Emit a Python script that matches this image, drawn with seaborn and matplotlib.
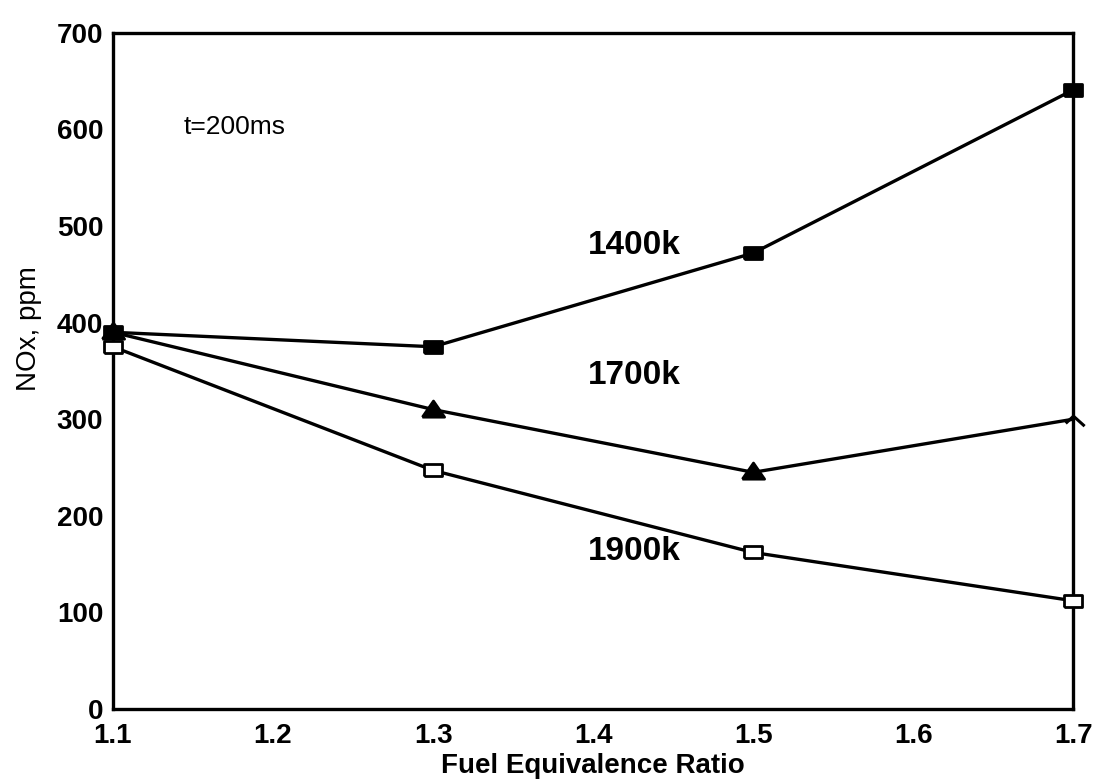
import matplotlib
matplotlib.use("Agg")
import matplotlib.pyplot as plt
import seaborn as sns
import pandas as pd

phi = [1.1, 1.3, 1.5, 1.7]
nox_1400k = [390, 375, 472, 641]
nox_1700k = [390, 310, 245, 300]
nox_1900k = [375, 247, 162, 112]
series_names = ["1400k", "1700k", "1900k"]
x_ticks = [1.1, 1.2, 1.3, 1.4, 1.5, 1.6, 1.7]
y_ticks = [0, 100, 200, 300, 400, 500, 600, 700]

sns.set_theme(style="white")
plt.rcParams["font.family"] = ["Liberation Sans", "DejaVu Sans"]
plt.rcParams["text.color"] = "black"

fig = plt.figure(figsize=(11.02, 7.82), dpi=100)
ax = fig.add_axes([0.1025, 0.0934, 0.8715, 0.8646])

rect = [(-1, -0.65), (1, -0.65), (1, 0.65), (-1, 0.65), (-1, -0.65)]
tri = [(-1, -0.6), (1, -0.6), (0, 0.85), (-1, -0.6)]
chevron = [(-0.7, -0.35), (0, 0.3), (1, -0.6)]
styles = {
    "1400k": dict(marker=rect, mfc="black", ms=13, every=None),
    "1700k": dict(marker=tri, mfc="black", ms=16, every=[0, 1, 2]),
    "1900k": dict(marker=rect, mfc="white", ms=13, every=None),
}
values = {"1400k": nox_1400k, "1700k": nox_1700k, "1900k": nox_1900k}

for name in series_names:
    df = pd.DataFrame({"phi": phi, "nox": values[name]})
    st = styles[name]
    sns.lineplot(data=df, x="phi", y="nox", ax=ax, color="black", linewidth=2.4,
                 marker=st["marker"], markersize=st["ms"], markevery=st["every"],
                 markerfacecolor=st["mfc"], markeredgecolor="black",
                 markeredgewidth=2, clip_on=False, zorder=3)

# last 1700k point drawn as an open chevron, as in the scan
ax.plot(phi[-1], nox_1700k[-1], linestyle="none", marker=chevron, ms=16,
        mfc="none", mec="black", mew=2.2, clip_on=False, zorder=4)

ax.set_xlim(1.1, 1.7)
ax.set_ylim(0, 700)
ax.set_xticks(x_ticks)
ax.set_yticks(y_ticks)
ax.set_xticklabels([f"{t:.1f}" for t in x_ticks])
ax.set_yticklabels([str(t) for t in y_ticks])
for s in ax.spines.values():
    s.set_color("black")
    s.set_linewidth(2.4)
ax.tick_params(axis="y", direction="out", length=7, width=2, labelsize=20,
               pad=0, colors="black")
ax.tick_params(axis="x", direction="in", length=0, width=2, labelsize=20,
               pad=10, colors="black")
for lab in ax.get_xticklabels() + ax.get_yticklabels():
    lab.set_fontweight("bold")
ax.set_xlabel("Fuel Equivalence Ratio", fontsize=20, fontweight="bold",
              color="black", labelpad=3)
ax.set_ylabel("NOx, ppm", fontsize=20, color="black")
ax.yaxis.set_label_coords(-0.074, 0.562)

ax.text(1.176, 603, "t=200ms", fontsize=19, ha="center", va="center")
ax.text(1.426, 480, "1400k", fontsize=24, fontweight="bold", ha="center", va="center")
ax.text(1.426, 345, "1700k", fontsize=24, fontweight="bold", ha="center", va="center")
ax.text(1.426, 163, "1900k", fontsize=24, fontweight="bold", ha="center", va="center")

fig.savefig("out.png", dpi=100, facecolor="white")
